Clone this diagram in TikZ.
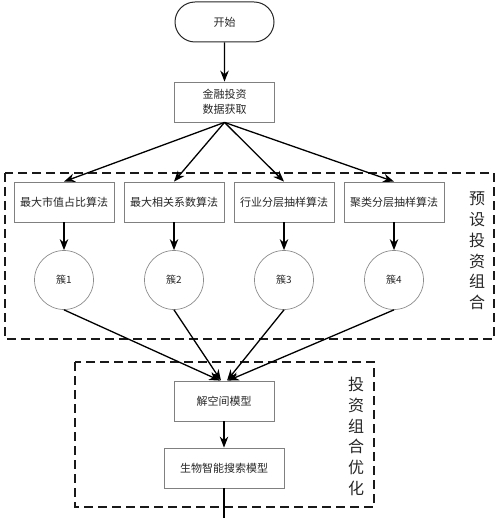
\documentclass[tikz,border=0pt]{standalone}
\usepackage{fontspec}
\setmainfont{Noto Sans CJK SC}
\usetikzlibrary{arrows.meta,shapes.misc}
\begin{document}
\begin{tikzpicture}[x=1pt,y=-1pt,
  box/.style={draw=black!50, line width=0.8pt, minimum width=100pt, minimum height=40pt,
    font=\fontsize{11}{14.5}\selectfont, text=black!85, inner sep=0pt, align=center},
  term/.style={draw=black!85, line width=1pt, rounded rectangle, minimum width=99pt, minimum height=40pt,
    font=\fontsize{11}{14}\selectfont, text=black!85, inner sep=0pt},
  clus/.style={circle, draw=black!45, line width=0.7pt, minimum size=59pt, inner sep=0pt,
    font=\fontsize{10}{12}\selectfont, text=black!85},
  group/.style={draw=black!90, line width=1.5pt, dash pattern=on 9pt off 5pt},
  vlabel/.style={font=\fontsize{16}{20.8}\selectfont, text=black!85, align=center, inner sep=0pt},
  arr/.style={-{Stealth[length=11pt,width=8.5pt]}, line width=1.3pt, black},
  ln/.style={line width=1.3pt, black}]
\useasboundingbox (0,0) rectangle (500,518);
\draw[group] (5,173) rectangle (494,339);
\draw[group] (75,362) rectangle (374,507);
\node[term] (start) at (224.5,22) {开始};
\node[box] (data) at (224.5,102) {金融投资\\数据获取};
\node[box] (a1) at (64,202) {最大市值占比算法};
\node[box] (a2) at (174,202) {最大相关系数算法};
\node[box] (a3) at (284,202) {行业分层抽样算法};
\node[box] (a4) at (394,202) {聚类分层抽样算法};
\node[clus] (c1) at (64,280) {簇1};
\node[clus] (c2) at (174,280) {簇2};
\node[clus] (c3) at (284,280) {簇3};
\node[clus] (c4) at (394,280) {簇4};
\node[box] (jk) at (224,401) {解空间模型};
\node[box, minimum width=120pt] (bio) at (224,468) {生物智能搜索模型};
\coordinate (out) at (224,518);
\node[vlabel] (lab1) at (477,251) {预\\设\\投\\资\\组\\合};
\node[vlabel] (lab2) at (356,436.5) {投\\资\\组\\合\\优\\化};
\draw[arr] (start) -- (data);
\foreach \i in {1,...,4} {
  \draw[arr] (data.south) -- (a\i.north);
  \draw[arr] (a\i) -- (c\i);
}
\draw[arr] (c1.south) -- ([xshift=-4pt]jk.north);
\draw[arr] (c2.south) -- ([xshift=-3pt]jk.north);
\draw[arr] (c3.south) -- ([xshift=3pt]jk.north);
\draw[arr] (c4.south) -- ([xshift=4pt]jk.north);
\draw[arr] (jk) -- (bio);
\draw[ln] (bio.south) -- (out);
\end{tikzpicture}
\end{document}
